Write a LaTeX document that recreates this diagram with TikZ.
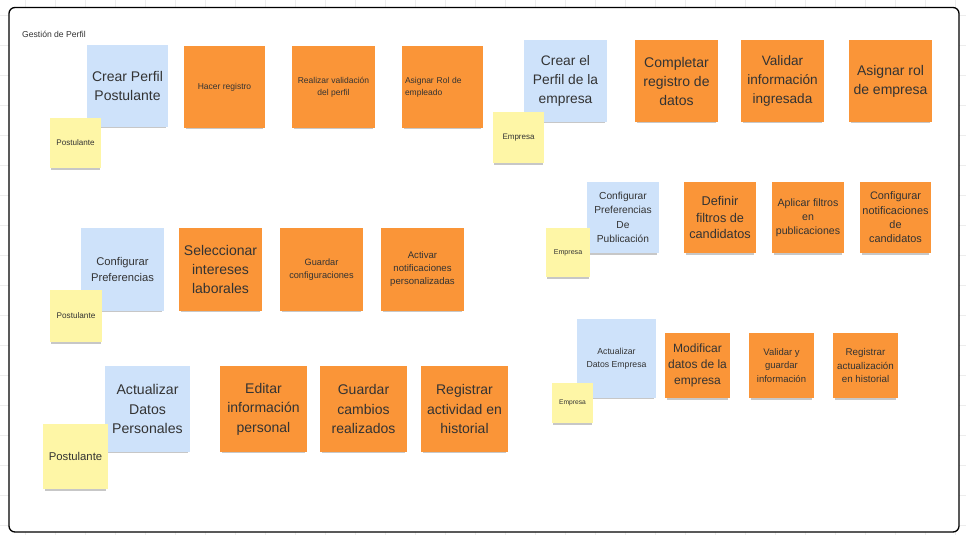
\documentclass[tikz,border=0pt]{standalone}
\usepackage{fontspec}
\setmainfont{Liberation Sans}
\usetikzlibrary{shadows}
\definecolor{notblue}{HTML}{CEE2FA}
\definecolor{notorange}{HTML}{FA9538}
\definecolor{notyellow}{HTML}{FEF6A6}
\definecolor{txt}{HTML}{333333}
\definecolor{gridc}{HTML}{EDEDED}
\tikzset{
  sticky/.style={inner sep=0pt, text=txt, align=center,
    drop shadow={shadow xshift=0pt, shadow yshift=-3.5pt, shadow scale=0.95, opacity=0.22, fill=black}},
  bluenote/.style={sticky, fill=notblue},
  orangenote/.style={sticky, fill=notorange},
  yellownote/.style={sticky, fill=notyellow},
  frame/.style={draw=black, line width=1.3pt, rounded corners=6pt, fill=white},
}
% name, style, x1, y1, x2, y2, size, leading, text
\newcommand\stickynote[9]{%
  \node[#2, minimum width={(#5-#3)*1pt}, minimum height={(#6-#4)*1pt},
        font={\fontsize{#7}{#8}\selectfont}]
     (#1) at ({(#3+#5)/2},{(#4+#6)/2}) {#9};}
\begin{document}
\begin{tikzpicture}[x=1pt,y=-1pt]
\useasboundingbox (0,0) rectangle (966,535);
\fill[white] (0,0) rectangle (966,535);
\foreach \gx in {25,55,...,966} \draw[gridc, line width=0.5pt] (\gx,0) -- (\gx,535);
\foreach \gy in {15,45,...,535} \draw[gridc, line width=0.5pt] (0,\gy) -- (966,\gy);
\draw[frame] (9,7.5) rectangle (959,532);
\node[anchor=west, inner sep=0pt, text=txt, font={\fontsize{8.6}{10}\selectfont}] (title) at (22,34) {Gestión de Perfil};
% Row 1 left
\stickynote{b1}{bluenote}{87}{45}{168}{127}{14}{19}{Crear Perfil\\Postulante}
\stickynote{y1}{yellownote}{50}{118}{101}{168}{8.1}{10}{Postulante}
\stickynote{o1}{orangenote}{184}{46}{265}{128}{8.5}{12}{Hacer registro}
\stickynote{o2}{orangenote}{292}{46}{375}{128}{8.5}{12}{Realizar validación\\del perfil}
\node[orangenote, align=left, text width=75pt, inner xsep=3pt, minimum height=82pt,
      font={\fontsize{8.5}{12}\selectfont}] (o3) at (442.5,87) {Asignar Rol de\\empleado};
% Row 1 right
\stickynote{b2}{bluenote}{524}{40}{607}{122}{13.8}{19}{Crear el\\Perfil de la\\empresa}
\stickynote{y2}{yellownote}{493}{112}{544}{163}{8}{10}{Empresa}
\stickynote{o4}{orangenote}{635}{40}{718}{122}{14}{19}{Completar\\registro de\\datos}
\stickynote{o5}{orangenote}{741}{40}{824}{122}{13.6}{19}{Validar\\información\\ingresada}
\stickynote{o6}{orangenote}{849}{40}{932}{122}{14}{19}{Asignar rol\\de empresa}
% Row 2 left
\stickynote{b3}{bluenote}{81}{228}{164}{311}{11.2}{15.7}{Configurar\\Preferencias}
\stickynote{y3}{yellownote}{50}{290}{102}{342}{8.2}{10}{Postulante}
\stickynote{o7}{orangenote}{179}{228}{262}{311}{14}{19}{Seleccionar\\intereses\\laborales}
\stickynote{o8}{orangenote}{280}{228}{363}{311}{9.2}{12.5}{Guardar\\configuraciones}
\stickynote{o9}{orangenote}{381}{228}{464}{311}{9.6}{13}{Activar\\notificaciones\\personalizadas}
% Row 2 right
\stickynote{b4}{bluenote}{587}{182}{659}{253}{10.2}{14.3}{Configurar\\Preferencias\\De\\Publicación}
\stickynote{y4}{yellownote}{546}{228}{590}{277}{7.1}{9}{Empresa}
\stickynote{o10}{orangenote}{684}{182}{756}{253}{12.7}{16.7}{Definir\\filtros de\\candidatos}
\stickynote{o11}{orangenote}{772}{182}{844}{253}{10.6}{14}{Aplicar filtros\\en\\publicaciones}
\stickynote{o12}{orangenote}{860}{182}{931}{253}{10.9}{14.3}{Configurar\\notificaciones\\de\\candidatos}
% Row 3 left
\stickynote{b5}{bluenote}{105}{366}{190}{452}{14.1}{19.5}{Actualizar\\Datos\\Personales}
\stickynote{y5}{yellownote}{43}{424}{108}{489}{11.3}{13}{Postulante}
\stickynote{o13}{orangenote}{220}{366}{307}{452}{14}{19.5}{Editar\\información\\personal}
\stickynote{o14}{orangenote}{320}{366}{407}{452}{14}{19.5}{Guardar\\cambios\\realizados}
\stickynote{o15}{orangenote}{421}{366}{508}{452}{14}{19.5}{Registrar\\actividad en\\historial}
% Row 3 right
\stickynote{b6}{bluenote}{577}{319}{656}{398}{8.7}{12.7}{Actualizar\\Datos Empresa}
\stickynote{y6}{yellownote}{552}{383}{593}{423}{6.7}{8}{Empresa}
\stickynote{o16}{orangenote}{665}{333}{730}{398}{12}{15.8}{Modificar\\datos de la\\empresa}
\stickynote{o17}{orangenote}{749}{333}{814}{398}{9.5}{13.5}{Validar y\\guardar\\información}
\stickynote{o18}{orangenote}{833}{333}{898}{398}{9.8}{13.5}{Registrar\\actualización\\en historial}
\end{tikzpicture}
\end{document}
